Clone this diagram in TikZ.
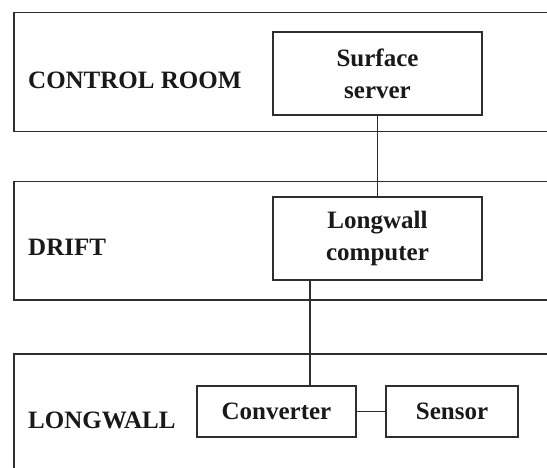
\documentclass[tikz,border=0pt]{standalone}
\usepackage{fontspec}
\setmainfont{Liberation Serif}
\begin{document}
\begin{tikzpicture}[x=1pt,y=1pt,
  every node/.style={font=\fontsize{25}{32}\selectfont\bfseries, text=black!90},
  band/.style={draw=black!82, line width=1.05pt},
  unit/.style={draw=black!82, line width=1.05pt, align=center, inner sep=0pt},
  zone/.style={anchor=west, inner sep=0pt},
  link/.style={draw=black!82, line width=1.05pt}]
\useasboundingbox (0,0) rectangle (547,468);
\clip (0,0) rectangle (547,468);
\fill[white] (0,0) rectangle (547,468);
% bands
\draw[band] (570,455.5) -- (14,455.5) -- (14,336.5) -- (570,336.5);
\draw[band] (570,286.3) -- (14,286.3) -- (14,168) -- (570,168);
\draw[band] (570,114) -- (14,114) -- (14,-10);
% zone labels
\node[zone] (cr) at (28,388) {CONTROL ROOM};
\node[zone] (dr) at (28,221) {DRIFT};
\node[zone] (lw) at (28,47.5) {LONGWALL};
% units
\node[unit, minimum width=209pt, minimum height=83pt] (srv) at (377.5,394.5) {Surface\\server};
\node[unit, minimum width=209pt, minimum height=83pt] (comp) at (377.5,229.5) {Longwall\\computer};
\node[unit, minimum width=159pt, minimum height=51pt] (conv) at (276.5,56.5) {Converter};
\node[unit, minimum width=132pt, minimum height=51pt] (sens) at (452,56.5) {Sensor};
% links
\coordinate (lx) at (310,0);
\draw[link] (srv.south) -- (comp.north);
\draw[link] (comp.south -| lx) -- (conv.north -| lx);
\draw[link] (conv.east) -- (sens.west);
\end{tikzpicture}
\end{document}
